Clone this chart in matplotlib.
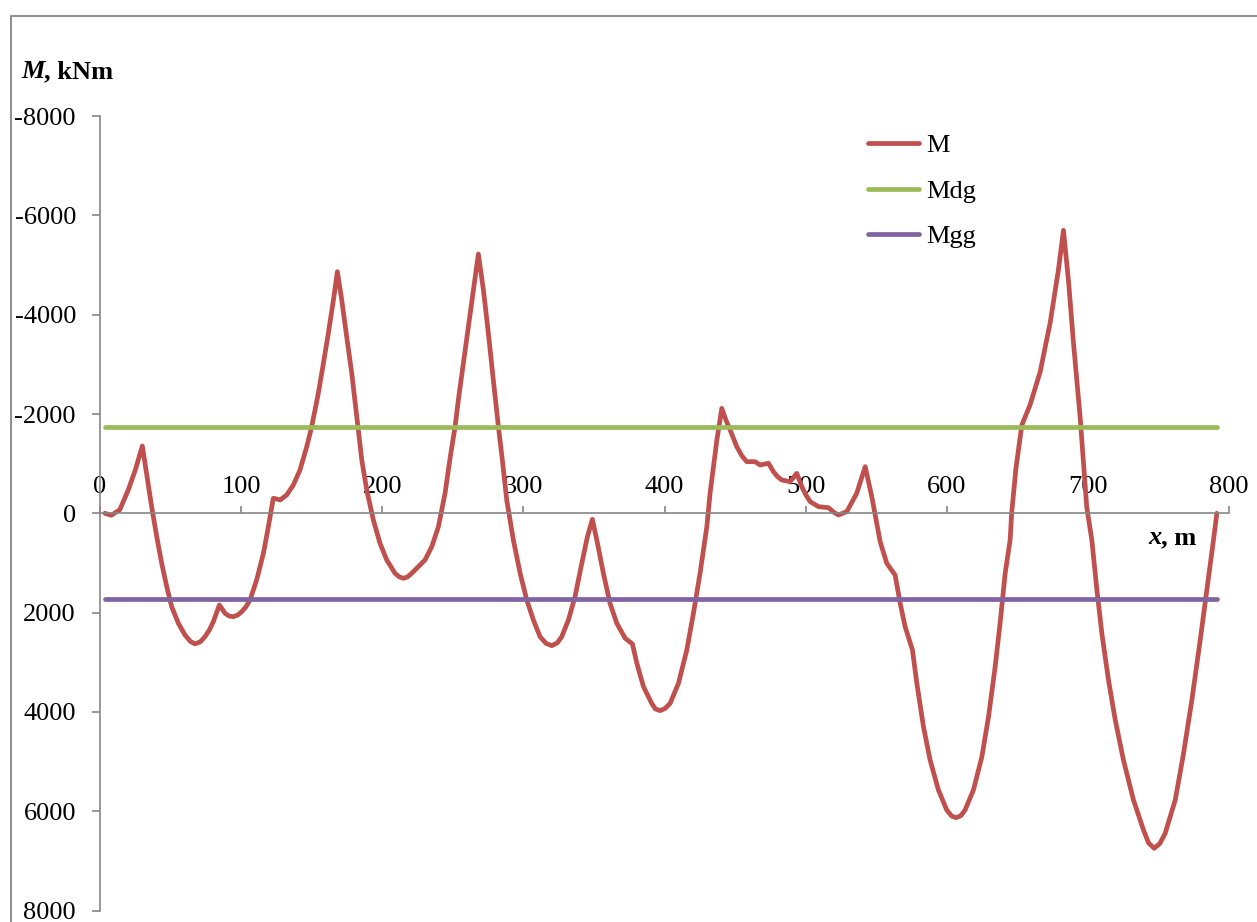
import matplotlib
matplotlib.use('Agg')
import matplotlib.pyplot as plt
from matplotlib.patches import Rectangle
from matplotlib.ticker import FuncFormatter, MultipleLocator

plt.rcParams['font.family'] = ['Liberation Serif', 'DejaVu Serif']

# bending moment along the bridge, x in m, M in kNm
x_m = [3.5, 8, 14, 20, 25, 30, 33, 36.6, 40.2, 43.7, 47.3, 50.8, 55.5, 60.2, 64, 67.3,
       71, 74.4, 77.5, 80.3, 84.6, 88.6, 91.5, 94.5, 97.5, 100.4, 103.5, 106.3, 111,
       115.8, 119.3, 122.8, 125, 127.6, 132.3, 137, 141.7, 146.5, 150, 154.7, 158.3,
       161.8, 165.4, 168.2, 171.3, 174.8, 178.4, 182.5, 185.5, 189, 193.7, 198.4,
       203.2, 209, 212, 215, 218, 220.9, 225.6, 230.3, 235.1, 239.8, 244.5, 248,
       251.6, 254, 257.5, 261, 264.6, 268.1, 271.7, 275.2, 278.7, 282.3, 285, 288.2,
       292.9, 297.7, 302.4, 307.1, 311.8, 316, 320.1, 324, 327.2, 331.9, 336.6, 341.4,
       345.4, 348.9, 352.5, 356.7, 361.4, 366.2, 372.1, 377.3, 380.4, 385.1, 390.9,
       393.5, 396.9, 400.5, 404, 409.9, 415.8, 420.5, 425.2, 430, 432.3, 437.1, 440.6,
       443.5, 446.5, 451.2, 455, 458.3, 464.2, 467.8, 470.5, 473.7, 477.2, 480, 483.1,
       489, 493.7, 497.3, 500, 503.2, 509.1, 516.2, 520, 523.2, 529.2, 536.2, 542.2,
       546.9, 552.8, 557.5, 563.4, 567, 570.5, 575.7, 578.8, 583.5, 588.2, 594.1, 600,
       603.5, 606.7, 610, 613, 618.9, 624.9, 629.6, 634.3, 637.8, 641.4, 644.9, 646,
       649, 653.2, 659.1, 666.2, 673.3, 679.2, 682.7, 686.3, 689.8, 694.5, 699.2,
       702.8, 706.4, 709.9, 714.6, 719.4, 725.2, 732.3, 739.4, 743, 747, 751, 754.8,
       761.9, 767.8, 773.7, 779.6, 784.3, 789, 791.4]
M = [0, 40, -70, -470, -870, -1355, -800, -134, 470, 1007, 1478, 1881, 2215, 2451,
     2580, 2630, 2590, 2485, 2350, 2183, 1847, 2014, 2070, 2082, 2050, 1982, 1880,
     1746, 1343, 805, 270, -302, -290, -268, -369, -570, -872, -1342, -1744, -2417,
     -3021, -3625, -4296, -4866, -4296, -3557, -2820, -1810, -1073, -469, 135, 604,
     940, 1208, 1280, 1309, 1280, 1208, 1075, 940, 672, 270, -403, -1100, -1744,
     -2300, -3021, -3758, -4497, -5222, -4497, -3625, -2685, -1744, -1100, -268, 538,
     1208, 1746, 2149, 2485, 2620, 2666, 2610, 2485, 2149, 1680, 1007, 470, 121, 604,
     1208, 1813, 2215, 2517, 2632, 3021, 3492, 3827, 3940, 3975, 3930, 3827, 3424,
     2753, 2014, 1208, 270, -403, -1476, -2114, -1880, -1680, -1342, -1150, -1040,
     -1040, -973, -990, -1007, -838, -740, -671, -637, -805, -536, -380, -234, -134,
     -113, -20, 34, -34, -403, -939, -334, 570, 1007, 1243, 1813, 2284, 2753, 3424,
     4298, 4969, 5573, 5976, 6100, 6130, 6090, 5976, 5573, 4902, 4097, 3089, 2215,
     1208, 538, 0, -900, -1776, -2189, -2850, -3842, -4916, -5700, -4669, -3430,
     -1942, -125, 538, 1545, 2417, 3357, 4163, 4969, 5774, 6378, 6640, 6747, 6650,
     6445, 5774, 4834, 3760, 2552, 1545, 538, 0]

# design limits
x_lim = [3.5, 791.4]
Mdg = [-1740, -1740]
Mgg = [1735, 1735]

W, H = 1257, 922
fig = plt.figure(figsize=(W / 100, H / 100), dpi=100)
ax = fig.add_axes([100 / W, 1 - 910.5 / H, 1129 / W, 794.4 / H])

grey = '#868686'
lw = 3.4
ax.plot(x_m, M, color='#C0504D', lw=lw, solid_capstyle='round', solid_joinstyle='round', label='M')
ax.plot(x_lim, Mdg, color='#9BBB59', lw=lw, solid_capstyle='round', label='Mdg')
ax.plot(x_lim, Mgg, color='#8064A2', lw=lw, solid_capstyle='round', label='Mgg')

ax.set_xlim(0, 800)
ax.set_ylim(8000, -8000)
ax.xaxis.set_major_locator(MultipleLocator(100))
ax.yaxis.set_major_locator(MultipleLocator(2000))
ax.yaxis.set_major_formatter(FuncFormatter(lambda v, p: '%d' % v))

ax.xaxis.tick_top()
ax.spines['top'].set_position(('data', 0))
ax.spines['bottom'].set_visible(False)
ax.spines['right'].set_visible(False)
for s in ('top', 'left'):
    ax.spines[s].set_color(grey)
    ax.spines[s].set_linewidth(1.2)
ax.tick_params(axis='x', direction='out', length=5, width=1.2, color=grey, pad=6, labelsize=19)
ax.tick_params(axis='y', direction='out', length=5.8, width=1.2, color=grey, pad=11.5, labelsize=19)
ax.patch.set_alpha(0)

leg = ax.legend(loc='upper left', bbox_to_anchor=(868 / W, 1 - 134 / H), bbox_transform=fig.transFigure,
                frameon=False, borderpad=0, borderaxespad=0, handlelength=1.95, handletextpad=0.25,
                labelspacing=0.83, fontsize=19)

# axis titles, italic symbol + bold unit
r = fig.canvas.get_renderer()
t1 = fig.text(21 / W, 1 - 78 / H, 'M', fontsize=19, fontweight='bold', fontstyle='italic', va='baseline')
bb = t1.get_window_extent(r)
fig.text(bb.x1 / W, 1 - 78 / H, ', kNm', fontsize=19, fontweight='bold', va='baseline')

t2 = fig.text(1148 / W, 1 - 544 / H, 'x', fontsize=19, fontweight='bold', fontstyle='italic', va='baseline')
bb = t2.get_window_extent(r)
fig.text(bb.x1 / W, 1 - 544 / H, ', m', fontsize=19, fontweight='bold', va='baseline')

fig.patches.append(Rectangle((11 / W, -0.1), 2, 1 - 16 / H + 0.1, transform=fig.transFigure,
                             fill=False, edgecolor=grey, lw=1.3))

fig.savefig('out.png', dpi=100)
